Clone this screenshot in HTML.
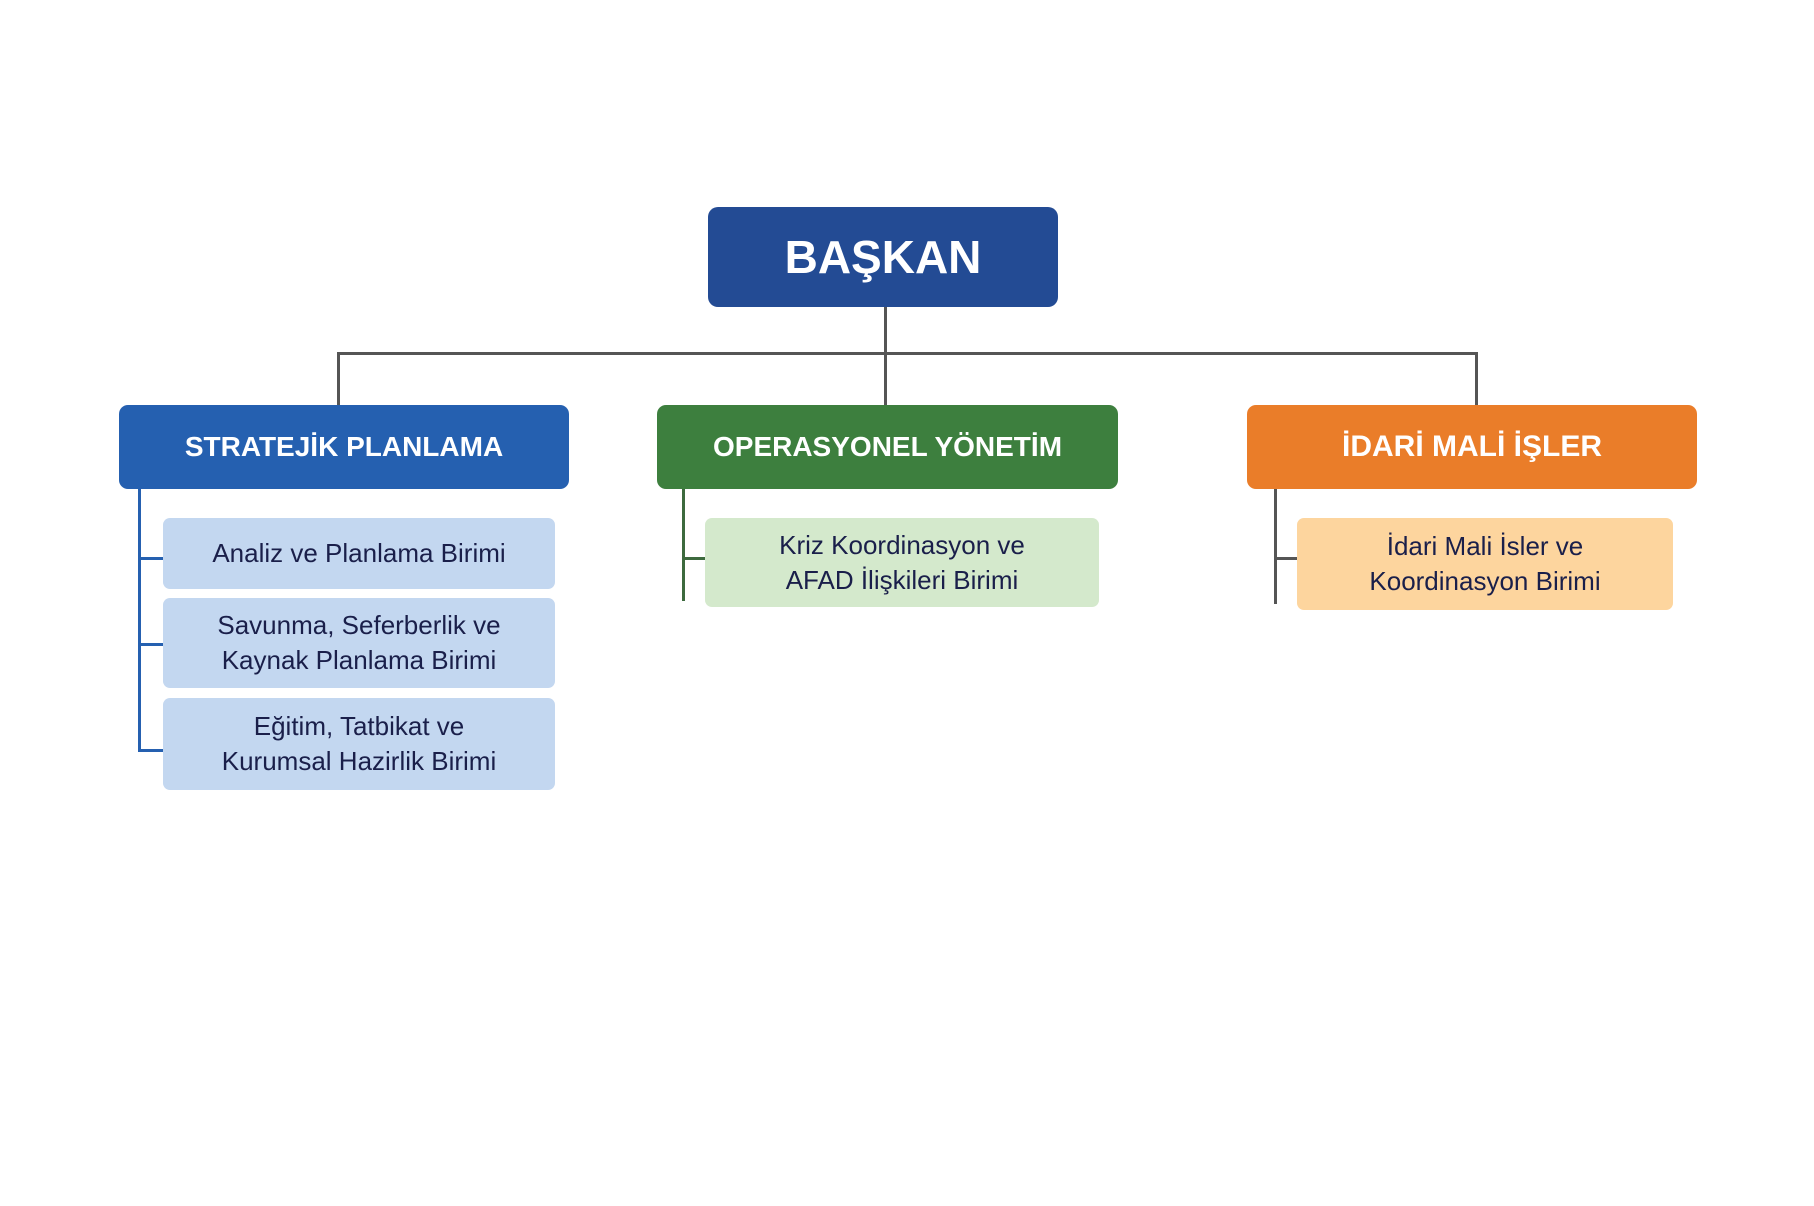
<!DOCTYPE html>
<html><head><meta charset="utf-8"><style>
body{margin:0;width:1814px;height:1206px;background:#fff;position:relative;overflow:hidden;font-family:"Liberation Sans","DejaVu Sans",sans-serif}
.b{position:absolute;box-sizing:border-box;display:flex;align-items:center;justify-content:center;text-align:center;border-radius:8px}
.t{color:#fff;font-weight:bold;font-size:28px;border-radius:9px}
.s{color:#1a1f4a;font-size:26px;line-height:35px;border-radius:7px}
.l{position:absolute}
</style></head><body>
<div class="b t" style="left:708px;top:207px;width:350px;height:100px;background:#234b94;font-size:46px;border-radius:10px">BAŞKAN</div>
<div class="l" style="left:884px;top:307px;width:3px;height:98px;background:#555"></div>
<div class="l" style="left:338px;top:352px;width:1140px;height:3px;background:#555"></div>
<div class="l" style="left:337px;top:352px;width:3px;height:53px;background:#555"></div>
<div class="l" style="left:1475px;top:352px;width:3px;height:53px;background:#555"></div>

<div class="b t" style="left:119px;top:405px;width:450px;height:84px;background:#2560b0">STRATEJİK PLANLAMA</div>
<div class="b t" style="left:657px;top:405px;width:461px;height:84px;background:#3d7f3e">OPERASYONEL YÖNETİM</div>
<div class="b t" style="left:1247px;top:405px;width:450px;height:84px;background:#ea7d29;font-size:30px">İDARİ MALİ İŞLER</div>

<div class="l" style="left:138px;top:489px;width:3px;height:263px;background:#2560b0"></div>
<div class="l" style="left:138px;top:557px;width:25px;height:3px;background:#2560b0"></div>
<div class="l" style="left:138px;top:643px;width:25px;height:3px;background:#2560b0"></div>
<div class="l" style="left:138px;top:749px;width:25px;height:3px;background:#2560b0"></div>
<div class="b s" style="left:163px;top:518px;width:392px;height:71px;background:#c3d7f0">Analiz ve Planlama Birimi</div>
<div class="b s" style="left:163px;top:598px;width:392px;height:90px;background:#c3d7f0">Savunma, Seferberlik ve<br>Kaynak Planlama Birimi</div>
<div class="b s" style="left:163px;top:698px;width:392px;height:92px;background:#c3d7f0">Eğitim, Tatbikat ve<br>Kurumsal Hazirlik Birimi</div>

<div class="l" style="left:682px;top:489px;width:3px;height:112px;background:#3d6a3e"></div>
<div class="l" style="left:682px;top:557px;width:23px;height:3px;background:#3d6a3e"></div>
<div class="b s" style="left:705px;top:518px;width:394px;height:89px;background:#d4e9cc">Kriz Koordinasyon ve<br>AFAD İlişkileri Birimi</div>

<div class="l" style="left:1274px;top:489px;width:3px;height:115px;background:#555"></div>
<div class="l" style="left:1274px;top:557px;width:23px;height:3px;background:#555"></div>
<div class="b s" style="left:1297px;top:518px;width:376px;height:92px;background:#fdd59e">İdari Mali İsler ve<br>Koordinasyon Birimi</div>
</body></html>
